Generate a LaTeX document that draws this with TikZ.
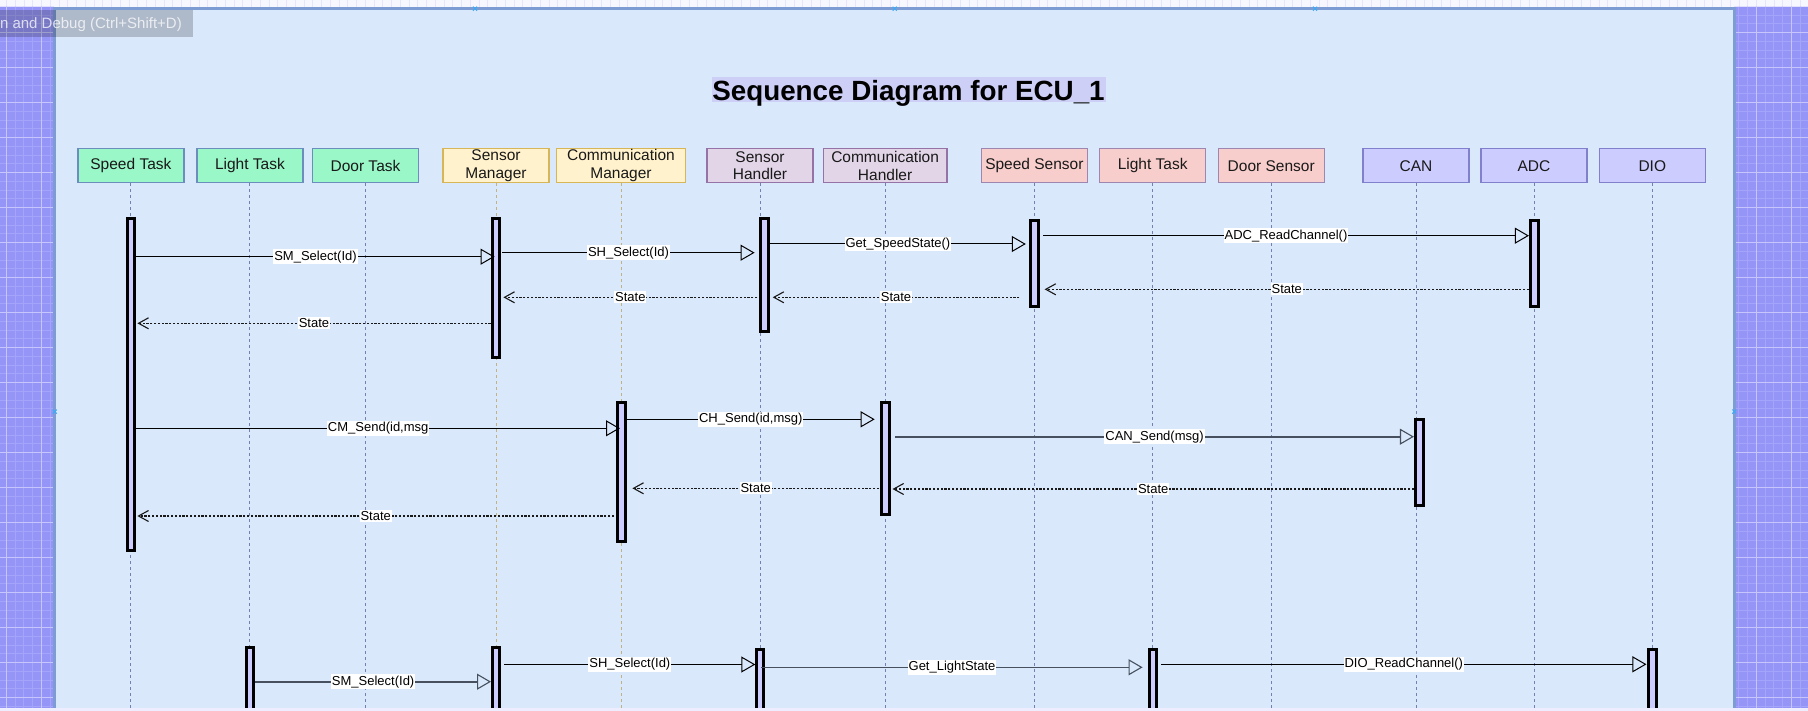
\documentclass[tikz,border=0pt]{standalone}
\usepackage{fontspec}
\setmainfont{Liberation Sans}
\usetikzlibrary{arrows.meta,calc}
\definecolor{panelbg}{HTML}{DAE8FC}
\definecolor{panelln}{HTML}{7E9CD4}
\definecolor{gpurple}{HTML}{9595F8}
\definecolor{gminorc}{HTML}{A4A4FA}
\definecolor{gmajorc}{HTML}{C6C6FD}
\definecolor{titlehl}{HTML}{CDCFF7}
\definecolor{cgreen}{HTML}{99F7C8}
\definecolor{bgreen}{HTML}{6C8EBF}
\definecolor{cyellow}{HTML}{FFF2CC}
\definecolor{byellow}{HTML}{D6B656}
\definecolor{cpurple}{HTML}{E1D5E7}
\definecolor{bpurple}{HTML}{9673A6}
\definecolor{cred}{HTML}{F8CECC}
\definecolor{bred}{HTML}{9D86B0}
\definecolor{clav}{HTML}{CCCCFF}
\definecolor{blav}{HTML}{8080CC}
\definecolor{barfill}{HTML}{CCCCFF}
\definecolor{lifec}{HTML}{7580B0}
\definecolor{lifey}{HTML}{C2B185}
\definecolor{slate}{HTML}{46505E}
\definecolor{handle}{HTML}{3FA9F5}
\begin{document}
\begin{tikzpicture}[x=1pt,y=-1pt,
  hdr/.style={rectangle, minimum width=106pt, minimum height=34pt, inner sep=0pt,
    line width=1.3pt, align=center, text=black!90, font=\fontsize{15.5}{17.7}\selectfont},
  hgreen/.style={hdr, fill=cgreen, draw=bgreen},
  hyellow/.style={hdr, fill=cyellow, draw=byellow},
  hpurple/.style={hdr, fill=cpurple, draw=bpurple},
  hred/.style={hdr, fill=cred, draw=bred},
  hlav/.style={hdr, fill=clav, draw=blav},
  life/.style={draw=lifec, line width=1pt, dash pattern=on 3pt off 3pt},
  lifeyel/.style={draw=lifey, line width=1pt, dash pattern=on 3pt off 3pt},
  actbar/.style={rectangle, draw=black, fill=barfill, line width=3pt, minimum width=7.8pt, inner sep=0pt},
  sync/.style={draw=black, line width=1pt, -{Triangle[open,length=14pt,width=16pt]}},
  syncg/.style={draw=slate, line width=1.6pt, -{Triangle[open,length=14pt,width=16pt,line width=1.1pt]}},
  reply/.style={draw=black!90, line width=1.1pt, dash pattern=on 2.2pt off 1.6pt, -{Straight Barb[length=10pt,width=11pt]}},
  lbl/.style={fill=white, inner xsep=1pt, inner ysep=1.2pt, text=black, font=\fontsize{13}{15}\selectfont},
  hmark/.style={draw=handle, line width=1pt}
]
\clip (0,0) rectangle (1808,711);
% top band
\fill[white!97!blue] (0,0) rectangle (1808,8);
\begin{scope}
  \clip (0,0) rectangle (1808,8);
  \foreach \k in {0,...,206} \draw[blue!10, line width=0.6pt] ({6.3+8.75*\k},0) -- ({6.3+8.75*\k},8);
\end{scope}
% purple grid strips
\begin{scope}
  \clip (0,7) rectangle (54,711) (1734,7) rectangle (1808,711);
  \fill[gpurple] (0,0) rectangle (1808,711);
  \foreach \k in {0,...,206} \draw[gminorc, line width=0.8pt] ({6.3+8.75*\k},0) -- ({6.3+8.75*\k},711);
  \foreach \k in {0,...,82} \draw[gminorc, line width=0.8pt] (0,{-2.5+8.75*\k}) -- (1808,{-2.5+8.75*\k});
  \foreach \j in {0,...,51} \draw[gmajorc, line width=1.3pt] ({6.3+35*\j},0) -- ({6.3+35*\j},711);
  \foreach \j in {1,...,20} \draw[gmajorc, line width=1.3pt] (0,{-2.5+35*\j}) -- (1808,{-2.5+35*\j});
\end{scope}
% panel
\draw[fill=panelbg, draw=panelln, line width=3.5pt] (54.7,8.7) rectangle (1734.3,760);
% tooltip
\fill[black, opacity=0.2] (0,10) rectangle (192.5,37.3);
\node[anchor=base east, inner sep=0pt, text=white, text opacity=0.75, font=\fontsize{15}{17}\selectfont] (tip) at (182,28.3) {n and Debug (Ctrl+Shift+D)};
% title
\fill[titlehl] (711.5,77.3) rectangle (1105.5,102);
\node[anchor=base, inner sep=0pt, text=black, font=\bfseries\fontsize{27.8}{32}\selectfont] (title) at (908.5,100.7) {Sequence Diagram for ECU\_1};
% headers
\node[hgreen] (spT) at (130.9,165.8) {Speed Task};
\node[hgreen] (ltT) at (249.9,165.8) {Light Task};
\node[hgreen] (drT) at (365.5,165.8) {Door Task};
\node[hyellow] (sm) at (496,165.8) {Sensor\\Manager};
\node[hyellow, minimum width=128.7pt] (cm) at (621,165.8) {Communication\\Manager};
\node[hpurple] (sh) at (760,165.8) {Sensor\\Handler};
\node[hpurple, minimum width=123.5pt] (ch) at (885.1,165.8) {Communication\\Handler};
\node[hred] (sps) at (1034.4,165.8) {Speed Sensor};
\node[hred] (lts) at (1152.7,165.8) {Light Task};
\node[hred] (ds) at (1271.2,165.8) {Door Sensor};
\node[hlav] (can) at (1416,165.8) {CAN};
\node[hlav] (adc) at (1534,165.8) {ADC};
\node[hlav] (dio) at (1652.3,165.8) {DIO};
% lifelines
\coordinate (bot) at (0,720);
\foreach \n in {spT,ltT,drT,sh,ch,sps,lts,ds,can,adc,dio} \draw[life] (\n.south) -- (\n.south |- bot);
\foreach \n in {sm,cm} \draw[lifeyel] (\n.south) -- (\n.south |- bot);
% activation bars
\node[actbar, minimum height=331.4pt] (a1) at (131,384.5) {};
\node[actbar, minimum height=139pt] (a2) at (496,288.3) {};
\node[actbar, minimum height=112.4pt] (a3) at (764.6,275) {};
\node[actbar, minimum height=86pt] (a4) at (1034.2,263.8) {};
\node[actbar, minimum height=86pt] (a5) at (1534.3,263.8) {};
\node[actbar, minimum height=138.7pt] (a6) at (621.4,471.85) {};
\node[actbar, minimum height=112pt] (a7) at (885.8,458.5) {};
\node[actbar, minimum height=86pt] (a8) at (1419.3,462.8) {};
\node[actbar, minimum height=81pt] (a9) at (249.9,688) {};
\node[actbar, minimum height=81pt] (a10) at (496,688) {};
\node[actbar, minimum height=78.7pt] (a11) at (760,689.15) {};
\node[actbar, minimum height=78.7pt] (a12) at (1153,689.15) {};
\node[actbar, minimum height=79.3pt] (a13) at (1652.85,688.85) {};
% message rows
\coordinate (y1) at (0,256.7);
\coordinate (y2) at (0,252.7);
\coordinate (y3) at (0,244);
\coordinate (y4) at (0,235.7);
\coordinate (y5) at (0,289.3);
\coordinate (y6) at (0,297.3);
\coordinate (y8) at (0,323.3);
\coordinate (y9) at (0,428.3);
\coordinate (y10) at (0,419.3);
\coordinate (y11) at (0,436.7);
\coordinate (y12) at (0,489);
\coordinate (y13) at (0,488.3);
\coordinate (y14) at (0,516);
\coordinate (y15) at (0,681.7);
\coordinate (y16) at (0,664.5);
\coordinate (y17) at (0,667.3);
\coordinate (y18) at (0,664.3);
% first group
\draw[sync] (a1.east |- y1) -- ($(a2.west |- y1)+(4,0)$) node[lbl, midway] {SM\_Select(Id)};
\draw[sync] ($(a2.east |- y2)+(1,0)$) -- ($(a3.west |- y2)+(-4.6,0)$) node[lbl, midway] {SH\_Select(Id)};
\draw[sync] (a3.east |- y3) -- ($(a4.west |- y3)+(-3,0)$) node[lbl, midway] {Get\_SpeedState()};
\draw[sync] ($(a4.east |- y4)+(3.5,0)$) -- (a5.west |- y4) node[lbl, midway] {ADC\_ReadChannel()};
\draw[reply] (a5.west |- y5) -- ($(a4.east |- y5)+(5,0)$) node[lbl, midway] {State};
\draw[reply] ($(a4.west |- y6)+(-9.5,0)$) -- ($(a3.east |- y6)+(2.7,0)$) node[lbl, midway] {State};
\draw[reply] ($(a3.west |- y6)+(-2,0)$) -- ($(a2.east |- y6)+(2,0)$) node[lbl, midway] {State};
\draw[reply] (a2.west |- y8) -- ($(a1.east |- y8)+(1,0)$) node[lbl, midway] {State};
% second group
\draw[sync] (a1.east |- y9) -- ($(a6.west |- y9)+(4,0)$) node[lbl, midway] {CM\_Send(id,msg};
\draw[sync] (a6.east |- y10) -- ($(a7.west |- y10)+(-5.7,0)$) node[lbl, midway] {CH\_Send(id,msg)};
\draw[syncg] ($(a7.east |- y11)+(4,0)$) -- (a8.west |- y11) node[lbl, midway] {CAN\_Send(msg)};
\draw[reply] (a8.west |- y12) -- ($(a7.east |- y12)+(1.3,0)$) node[lbl, midway] {State};
\draw[reply] ($(a7.west |- y13)+(-1.4,0)$) -- ($(a6.east |- y13)+(5.6,0)$) node[lbl, midway] {State};
\draw[reply] ($(a6.west |- y14)+(-2,0)$) -- ($(a1.east |- y14)+(1,0)$) node[lbl, midway] {State};
% third group
\draw[syncg] (a9.east |- y15) -- ($(a10.west |- y15)+(0.4,0)$) node[lbl, midway] {SM\_Select(Id)};
\draw[sync] ($(a10.east |- y16)+(3,0)$) -- ($(a11.west |- y16)+(0.7,0)$) node[lbl, midway] {SH\_Select(Id)};
\draw[syncg] ($(a11.east |- y17)+(-4,0)$) -- ($(a12.west |- y17)+(-5,0)$) node[lbl, midway] {Get\_LightState};
\draw[sync] ($(a12.east |- y18)+(2.7,0)$) -- ($(a13.west |- y18)+(-1,0)$) node[lbl, midway] {DIO\_ReadChannel()};
% selection handles
\foreach \p in {(475,8.7),(894.7,8.7),(1315,8.7),(54.7,411.6),(1734.3,411.6)}
  \draw[hmark] \p ++(-2,-2) -- ++(4,4) \p ++(-2,2) -- ++(4,-4);
% bottom edge of the screenshot
\fill[white!93!blue] (0,708.3) rectangle (1808,711);
\end{tikzpicture}
\end{document}
